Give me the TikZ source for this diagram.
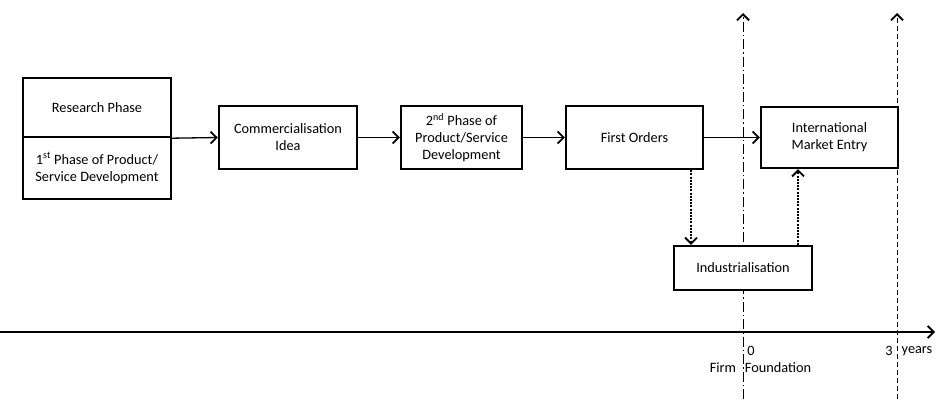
\documentclass[tikz,border=0pt]{standalone}
\usepackage{fontspec}
\setmainfont{Carlito}
\usetikzlibrary{arrows.meta}
\begin{document}
\begin{tikzpicture}[x=1pt,y=-1pt,
  box/.style={draw=black, line width=2.4pt, fill=white, align=center, inner sep=2pt,
    font=\fontsize{14.3}{17}\selectfont},
  tip/.style={-{Straight Barb[length=6pt,width=12pt,line width=1.8pt]}},
  conn/.style={line width=1.3pt, tip},
  dotconn/.style={conn, line width=1.1pt, dash pattern=on 2pt off 1.2pt},
  lbl/.style={font=\fontsize{14.3}{17}\selectfont, inner sep=0pt}]
\useasboundingbox (0,0) rectangle (936,399);
% time markers
\coordinate (fftop) at (743,13);
\coordinate (ffbot) at (743,399);
\coordinate (ytop) at (897,13);
\coordinate (ybot) at (897,399);
\draw[line width=0.9pt, dash pattern=on 10pt off 3pt on 1.5pt off 3pt, tip] (ffbot) -- (fftop);
\draw[line width=0.9pt, dash pattern=on 5pt off 3pt, tip] (ybot) -- (ytop);
% axis
\coordinate (ax0) at (0,332);
\coordinate (ax1) at (935,332);
\draw[conn] (ax0) -- (ax1);
% boxes
\node[box, minimum width=148pt, minimum height=59pt] (rp) at (97,107.5) {Research Phase};
\node[box, minimum width=148pt, minimum height=62pt] (pd1) at (97,168) {1\textsuperscript{st} Phase of Product/\\Service Development};
\node[box, minimum width=138pt, minimum height=63pt] (ci) at (288,137.5) {Commercialisation\\Idea};
\node[box, minimum width=121pt, minimum height=63pt] (pd2) at (461.5,137.5) {2\textsuperscript{nd} Phase of\\Product/Service\\Development};
\node[box, minimum width=137pt, minimum height=63pt] (fo) at (634.5,137.5) {First Orders};
\node[box, minimum width=137pt, minimum height=61pt] (ime) at (829.5,137.5) {International\\Market Entry};
\node[box, minimum width=138pt, minimum height=44pt] (ind) at (743,268) {Industrialisation};
% connectors
\draw[conn] (rp.south east) -- (ci.west);
\draw[conn] (ci.east) -- (pd2.west);
\draw[conn] (pd2.east) -- (fo.west);
\draw[conn] (fo.east) -- (ime.west);
\coordinate (d1) at (691,0);
\coordinate (d2) at (798,0);
\draw[dotconn] (fo.south -| d1) -- (ind.north -| d1);
\draw[dotconn] (ind.north -| d2) -- (ime.south -| d2);
% labels
\node[lbl] (l0) at (751,351) {0};
\node[lbl] (l3) at (889,351) {3};
\node[lbl] (ly) at (917,351) {years};
\node[lbl] (lf) at (723,368) {Firm};
\node[lbl] (lfd) at (778,368) {Foundation};
\end{tikzpicture}
\end{document}
